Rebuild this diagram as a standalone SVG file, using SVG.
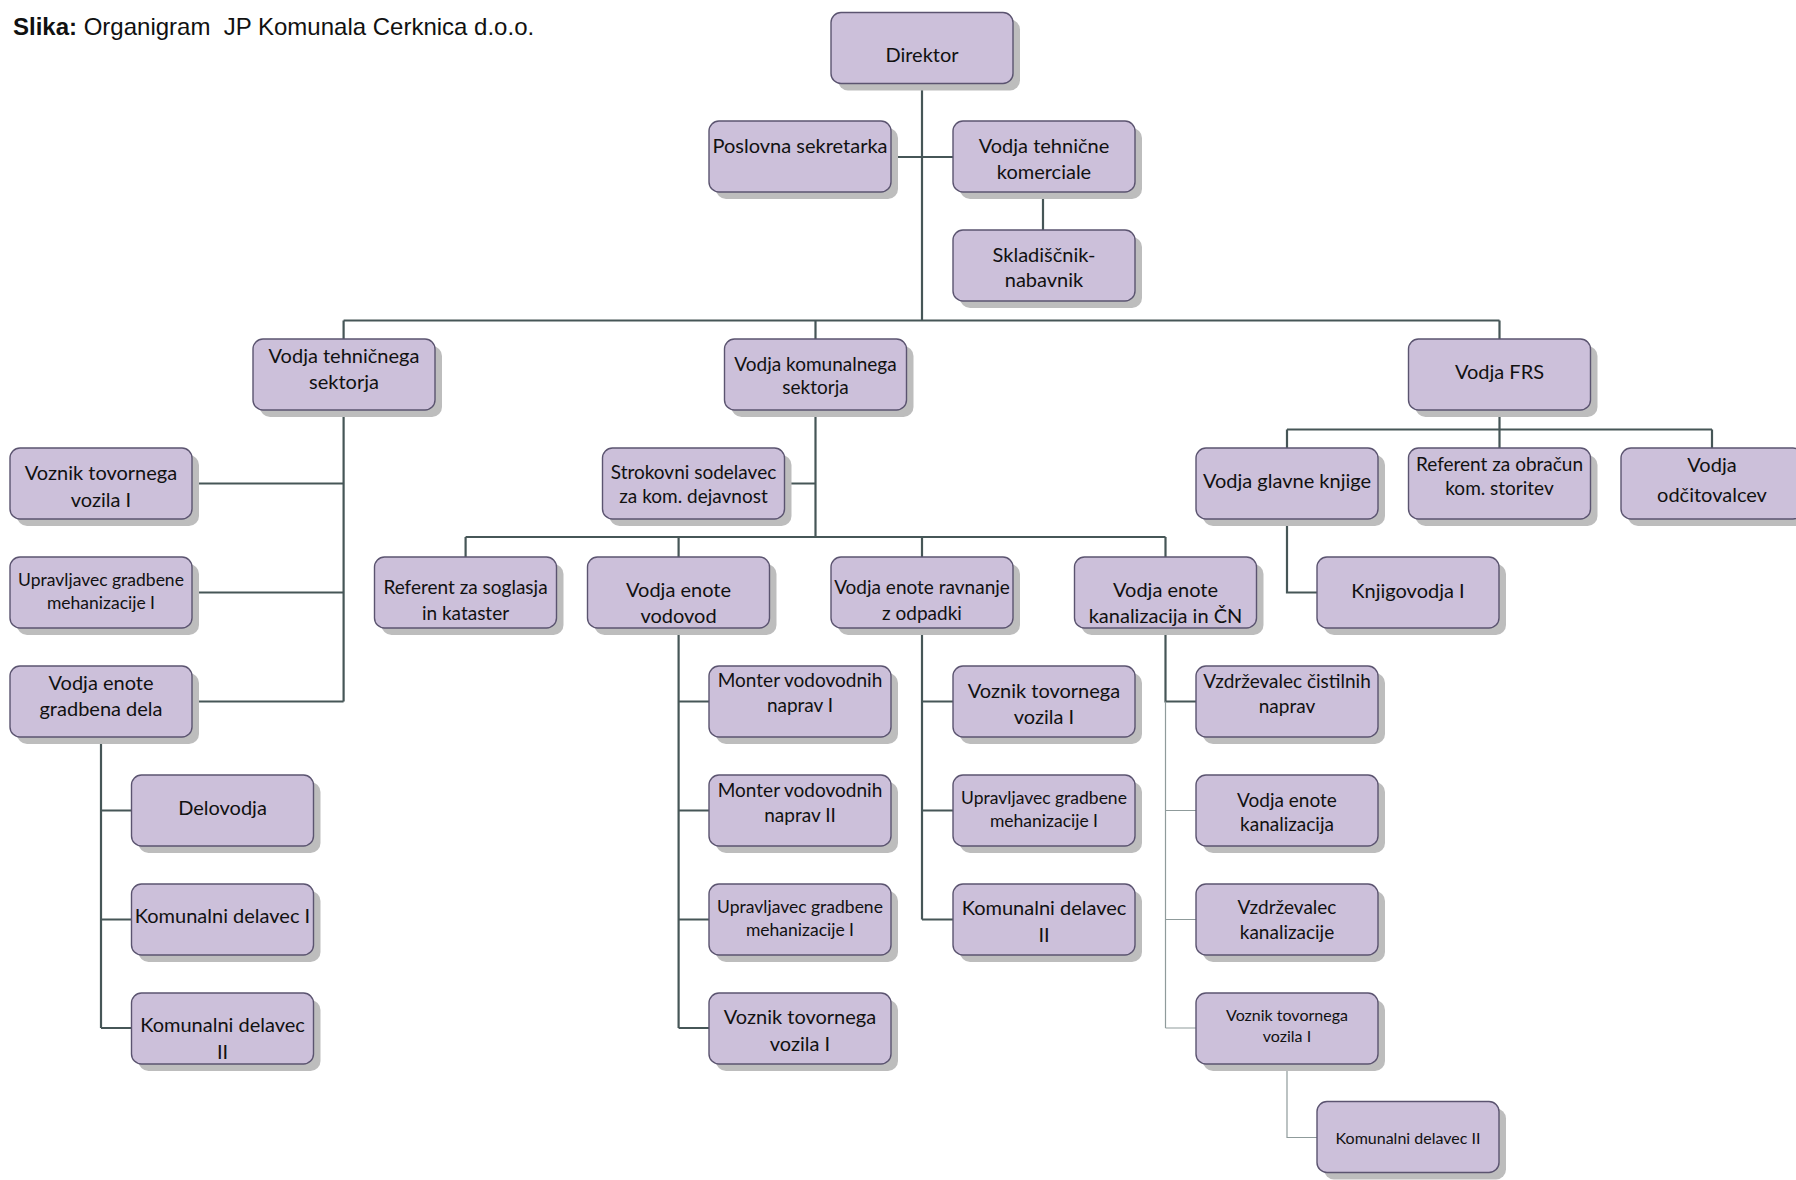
<svg xmlns="http://www.w3.org/2000/svg" width="1796" height="1180" viewBox="0 0 1796 1180">
<style>
.sh{fill:#bdbdbd}
.bx{fill:#ccc0da;stroke:#5b5470;stroke-width:1.4}
text{font-family:Lato,"Noto Sans",sans-serif;fill:#111;text-anchor:middle}
.f21{font-size:20px}
.f20{font-size:19px}
.f18{font-size:17.5px}
.f17{font-size:16px}
.ttl{font-family:"Liberation Sans",Arial,sans-serif;font-size:24px;text-anchor:start;white-space:pre}
.ln{fill:none;stroke:#465657;stroke-width:2.2}
.lt{fill:none;stroke:#8f9b9b;stroke-width:1.2}
</style>
<defs>
<g id="b">
<rect class="sh" x="7" y="7" width="182" height="71" rx="10"/>
<rect class="bx" x="0" y="0" width="182" height="71" rx="10"/>
</g>
</defs>
<text class="ttl" x="13" y="35"><tspan font-weight="bold">Slika:</tspan> Organigram  JP Komunala Cerknica d.o.o.</text>
<g id="connectors">
<path class="ln" d="M922 83V320.5M891 157H953M1043 192V230M343.6 320.5H1499.5M343.6 320.5V339M815.5 320.5V339M1499.5 320.5V339"/>
<path class="ln" d="M343.6 410V701.5M192 483.5H343.6M192 592.5H343.6M192 701.5H343.6"/>
<path class="ln" d="M101 737V1028M101 810.5H131.5M101 919.5H131.5M101 1028H131.5"/>
<path class="ln" d="M815.5 410V537M784.5 483.5H815.5M465.6 537H1165.5M465.6 537V557M678.6 537V557M922 537V557M1165.5 537V557"/>
<path class="ln" d="M678.6 628V1028M678.6 701.5H709M678.6 810.5H709M678.6 919.5H709M678.6 1028H709"/>
<path class="ln" d="M922 628V919.5M922 701.5H953M922 810.5H953M922 919.5H953"/>
<path class="ln" d="M1165.5 628V701.5H1196"/>
<path class="lt" d="M1165.5 701.5V1028M1165.5 810.5H1196M1165.5 919.5H1196M1165.5 1028H1196M1287 1064V1137.5H1317"/>
<path class="ln" d="M1499.5 410V448M1287 429.5H1712M1287 429.5V448M1712 429.5V448M1287 519V592.5H1317"/>
</g>
<g id="n-direktor"><use href="#b" x="831" y="12.5"/><text class="f21" x="922" y="62">Direktor</text></g>
<g id="n-poslovna"><use href="#b" x="709" y="121"/><text class="f21" x="800" y="153">Poslovna sekretarka</text></g>
<g id="n-komerciale"><use href="#b" x="953" y="121"/><text class="f21" x="1044" y="153">Vodja tehnične</text><text class="f21" x="1044" y="179">komerciale</text></g>
<g id="n-skladiscnik"><use href="#b" x="953" y="230"/><text class="f21" x="1044" y="262">Skladiščnik-</text><text class="f21" x="1044" y="287">nabavnik</text></g>
<g id="n-teh-sektor"><use href="#b" x="253" y="339"/><text class="f21" x="344" y="363">Vodja tehničnega</text><text class="f21" x="344" y="388.5">sektorja</text></g>
<g id="n-kom-sektor"><use href="#b" x="724.5" y="339"/><text class="f20" x="815.5" y="370.5">Vodja komunalnega</text><text class="f20" x="815.5" y="393.5">sektorja</text></g>
<g id="n-frs"><use href="#b" x="1408.5" y="339"/><text class="f21" x="1499.5" y="379">Vodja FRS</text></g>
<g id="n-voznik1"><use href="#b" x="10" y="448"/><text class="f21" x="101" y="480">Voznik tovornega</text><text class="f21" x="101" y="506.5">vozila I</text></g>
<g id="n-upravljavec1"><use href="#b" x="10" y="557"/><text class="f18" x="101" y="585.5">Upravljavec gradbene</text><text class="f18" x="101" y="608.5">mehanizacije I</text></g>
<g id="n-gradbena"><use href="#b" x="10" y="666"/><text class="f21" x="101" y="689.5">Vodja enote</text><text class="f21" x="101" y="716">gradbena dela</text></g>
<g id="n-delovodja"><use href="#b" x="131.5" y="775"/><text class="f21" x="222.5" y="814.5">Delovodja</text></g>
<g id="n-komdel1"><use href="#b" x="131.5" y="884"/><text class="f21" x="222.5" y="923">Komunalni delavec I</text></g>
<g id="n-komdel2a"><use href="#b" x="131.5" y="993"/><text class="f21" x="222.5" y="1032">Komunalni delavec</text><text class="f21" x="222.5" y="1058.5">II</text></g>
<g id="n-strokovni"><use href="#b" x="602.5" y="448"/><text class="f20" x="693.5" y="478.5">Strokovni sodelavec</text><text class="f20" x="693.5" y="502.5">za kom. dejavnost</text></g>
<g id="n-referent-sog"><use href="#b" x="374.5" y="557"/><text class="f20" x="465.5" y="594">Referent za soglasja</text><text class="f20" x="465.5" y="619.5">in kataster</text></g>
<g id="n-vodovod"><use href="#b" x="587.5" y="557"/><text class="f21" x="678.5" y="597">Vodja enote</text><text class="f21" x="678.5" y="623">vodovod</text></g>
<g id="n-odpadki"><use href="#b" x="831" y="557"/><text class="f20" x="922" y="594">Vodja enote ravnanje</text><text class="f20" x="922" y="619.5">z odpadki</text></g>
<g id="n-kanal-cn"><use href="#b" x="1074.5" y="557"/><text class="f21" x="1165.5" y="597">Vodja enote</text><text class="f21" x="1165.5" y="623">kanalizacija in ČN</text></g>
<g id="n-glavne"><use href="#b" x="1196" y="448"/><text class="f21" x="1287" y="488">Vodja glavne knjige</text></g>
<g id="n-referent-obr"><use href="#b" x="1408.5" y="448"/><text class="f20" x="1499.5" y="470.5">Referent za obračun</text><text class="f20" x="1499.5" y="494.5">kom. storitev</text></g>
<g id="n-odcitovalci"><use href="#b" x="1621" y="448"/><text class="f21" x="1712" y="472">Vodja</text><text class="f21" x="1712" y="502">odčitovalcev</text></g>
<g id="n-knjigovodja"><use href="#b" x="1317" y="557"/><text class="f21" x="1408" y="598">Knjigovodja I</text></g>
<g id="n-monter1"><use href="#b" x="709" y="666"/><text class="f20" x="800" y="687">Monter vodovodnih</text><text class="f20" x="800" y="712">naprav I</text></g>
<g id="n-monter2"><use href="#b" x="709" y="775"/><text class="f20" x="800" y="796.5">Monter vodovodnih</text><text class="f20" x="800" y="822">naprav II</text></g>
<g id="n-upravljavec2"><use href="#b" x="709" y="884"/><text class="f18" x="800" y="912.5">Upravljavec gradbene</text><text class="f18" x="800" y="936">mehanizacije I</text></g>
<g id="n-voznik2"><use href="#b" x="709" y="993"/><text class="f21" x="800" y="1024">Voznik tovornega</text><text class="f21" x="800" y="1050.5">vozila I</text></g>
<g id="n-voznik3"><use href="#b" x="953" y="666"/><text class="f21" x="1044" y="697.5">Voznik tovornega</text><text class="f21" x="1044" y="724">vozila I</text></g>
<g id="n-upravljavec3"><use href="#b" x="953" y="775"/><text class="f18" x="1044" y="803.5">Upravljavec gradbene</text><text class="f18" x="1044" y="826.5">mehanizacije I</text></g>
<g id="n-komdel2b"><use href="#b" x="953" y="884"/><text class="f21" x="1044" y="915">Komunalni delavec</text><text class="f21" x="1044" y="941.5">II</text></g>
<g id="n-vzdr-cist"><use href="#b" x="1196" y="666"/><text class="f20" x="1287" y="687.5">Vzdrževalec čistilnih</text><text class="f20" x="1287" y="712.5">naprav</text></g>
<g id="n-vodja-kanal"><use href="#b" x="1196" y="775"/><text class="f20" x="1287" y="806.5">Vodja enote</text><text class="f20" x="1287" y="830.5">kanalizacija</text></g>
<g id="n-vzdr-kanal"><use href="#b" x="1196" y="884"/><text class="f20" x="1287" y="914">Vzdrževalec</text><text class="f20" x="1287" y="939">kanalizacije</text></g>
<g id="n-voznik4"><use href="#b" x="1196" y="993"/><text class="f17" x="1287" y="1021">Voznik tovornega</text><text class="f17" x="1287" y="1041.5">vozila I</text></g>
<g id="n-komdel2c"><use href="#b" x="1317" y="1101.5"/><text class="f17" x="1408" y="1143.5">Komunalni delavec II</text></g>
</svg>
